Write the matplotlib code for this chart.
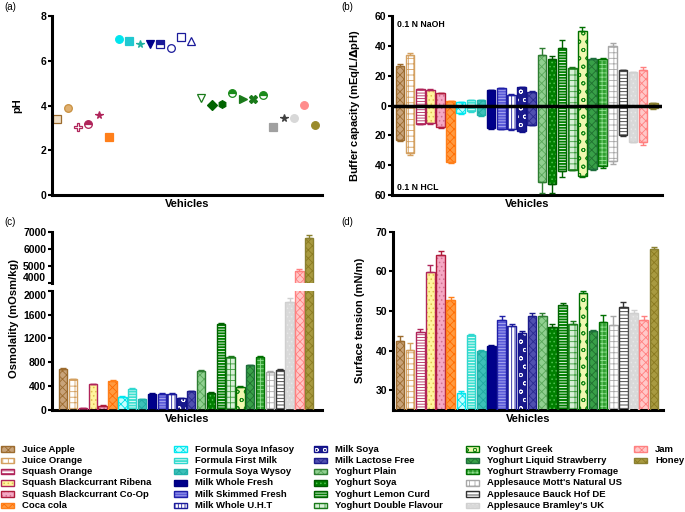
import numpy as np
import matplotlib.pyplot as plt
from matplotlib.patches import Rectangle

plt.rcParams['font.family'] = ['Liberation Sans', 'DejaVu Sans']
plt.rcParams['font.weight'] = 'bold'
plt.rcParams['axes.labelweight'] = 'bold'
plt.rcParams['hatch.linewidth'] = 0.6

vehicles = ['Juice Apple', 'Juice Orange', 'Squash Orange', 'Squash Blackcurrant Ribena',
            'Squash Blackcurrant Co-Op', 'Coca cola', 'Formula Soya Infasoy', 'Formula First Milk',
            'Formula Soya Wysoy', 'Milk Whole Fresh', 'Milk Skimmed Fresh', 'Milk Whole U.H.T',
            'Milk Soya', 'Milk Lactose Free', 'Yoghurt Plain', 'Yoghurt Soya', 'Yoghurt Lemon Curd',
            'Yoghurt Double Flavour', 'Yoghurt Greek', 'Yoghurt Liquid Strawberry',
            'Yoghurt Strawberry Fromage', "Applesauce Mott's Natural US", 'Applesauce Bauck Hof DE',
            "Applesauce Bramley's UK", 'Jam', 'Honey']

# (a) pH
ph = [3.40, 3.88, 3.02, 3.18, 3.56, 2.60, 6.98, 6.88, 6.73, 6.75, 6.75, 6.58, 7.08, 6.87,
      4.32, 4.03, 4.07, 4.57, 4.29, 4.27, 4.45, 3.03, 3.45, 3.45, 4.03, 3.13]

# (b) buffer capacity, NaOH (up) and HCL (down)
buffer_naoh = [26.3, 34.0, 10.8, 10.4, 8.1, 2.9, 2.3, 3.6, 3.6, 10.4, 11.5, 7.0, 12.4, 9.2,
               34.0, 31.3, 38.3, 25.0, 49.8, 31.3, 31.3, 39.6, 23.6, 22.3, 23.6, 1.6]
buffer_naoh_err = [1.2, 1.0, 0.5, 0.5, 0.6, 0.4, 0.3, 0.3, 0.3, 0.3, 0.3, 0.5, 0.3, 0.4,
                   4.4, 2.0, 5.6, 0.5, 3.0, 0.5, 0.6, 2.0, 0.5, 0.3, 2.0, 0.3]
buffer_hcl = [22.8, 31.8, 12.2, 11.9, 14.1, 37.8, 5.2, 3.8, 6.5, 15.1, 15.5, 15.5, 17.1, 12.8,
              51.4, 52.7, 43.7, 43.0, 47.3, 42.4, 40.8, 37.2, 19.8, 24.3, 24.5, 1.8]
buffer_hcl_err = [0.8, 1.1, 0.5, 0.8, 0.9, 0.6, 0.3, 0.3, 0.5, 0.4, 0.4, 0.6, 0.4, 0.4,
                  7.5, 6.2, 4.0, 0.5, 0.8, 0.8, 0.8, 2.0, 0.5, 0.3, 2.2, 0.3]

# (c) osmolality
osmolality = [687, 518, 28, 428, 73, 485, 220, 360, 186, 276, 276, 276, 197, 321,
              654, 290, 1436, 883, 391, 749, 894, 642, 676, 1810, 4670, 6610]
osmolality_err = [15, 10, 3, 10, 5, 10, 10, 10, 5, 5, 5, 5, 5, 5,
                  10, 10, 20, 15, 10, 10, 15, 10, 15, 60, 140, 200]

# (d) surface tension
surface_tension = [42.4, 40.1, 44.6, 59.8, 64.0, 52.7, 29.3, 44.0, 39.8, 41.1, 47.7, 46.3, 44.4, 48.6,
                   48.7, 46.0, 51.5, 46.8, 54.5, 45.0, 47.2, 46.5, 50.9, 49.4, 47.8, 65.6]
surface_tension_err = [1.4, 1.7, 0.8, 1.9, 1.2, 0.7, 0.6, 0.3, 0.4, 0.2, 1.1, 0.5, 0.6, 1.0,
                       0.8, 0.7, 0.5, 0.7, 0.5, 0.1, 1.7, 2.3, 1.4, 0.9, 0.9, 0.5]

edge_colors = ['#9c6b2e', '#d4a060', '#b0245a', '#b0245a', '#b01c3c', '#ff7f1a', '#00e8f0', '#30d8d0',
               '#20b2aa', '#00007f', '#2020a8', '#1c1c9c', '#10108a', '#1c1c8c', '#2e7d32', '#005a00',
               '#006400', '#1a7a1a', '#007000', '#1e6e3c', '#007000', '#a8a8a8', '#333333', '#d0d0d0',
               '#ff8080', '#8a8030']
fill_colors = ['#c8a37a', '#ffffff', '#ffffff', '#fff59d', '#f5a8c4', '#ff9a40', '#c8ffff', '#40e0d0',
               '#3cc0b8', '#00008b', '#5a5ad8', '#ffffff', '#1a1a8c', '#5050b0', '#90d090', '#008000',
               '#008000', '#d8f0d8', '#f0f8b0', '#38a048', '#30a030', '#ffffff', '#ffffff', '#d9d9d9',
               '#ffc8c8', '#a89a40']
hatch_colors = ['#9c6b2e', '#d4a060', '#b0245a', '#e0c050', '#d07090', '#ff6a00', '#00e0e8', '#ffffff',
                '#20a8a0', '#00008b', '#b0b0f0', '#1c1c9c', '#ffffff', '#2a2a90', '#5aa85a', '#50c050',
                '#ffffff', '#3a9a3a', '#1a8a1a', '#207030', '#90e090', '#a8a8a8', '#333333', '#e8e8e8',
                '#ff8080', '#8a7a20']
hatches = ['xxxx', '+++', '------', '....', '....', 'xxxx', 'xxxx', '------', 'xxxx', '', '------', '|||||',
           'oo', 'xxxx', 'xxxx', '....', '------', '+++', 'oo', 'xxxx', '++++', '+++', '-----', '....',
           'xxxx', 'xxxx']

markers = ['s', 'o', 'P', 'o', '*', 's', 'o', 's', '*', 'v', 's', 'o', 's', '^',
           'v', 'D', 'h', 'o', '>', 'X', 'o', 's', '*', 'o', 'o', 'o']
marker_faces = ['#f0e0c8', '#e0b070', '#ffffff', '#b0245a', '#b0245a', '#ff7f1a', '#00e5ee', '#20c8d0',
                '#20b0a0', '#00008b', '#1a1a9a', '#ffffff', '#ffffff', '#ffffff', '#ffffff', '#006400',
                '#006400', '#1a8a1a', '#1a7a1a', '#1a7a1a', '#1a8a1a', '#a0a0a0', '#404040', '#d8d8d8',
                '#ff8c8c', '#9a8a2a']
marker_edges = ['#9c6b2e', '#c89040', '#b0245a', '#b0245a', '#b0245a', '#ff7f1a', '#00e5ee', '#20c8d0',
                '#20b0a0', '#00008b', '#1a1a9a', '#1a1a9a', '#1a1a9a', '#1a1a9a', '#1a7a1a', '#006400',
                '#006400', '#1a8a1a', '#1a7a1a', '#1a7a1a', '#1a8a1a', '#a0a0a0', '#404040', '#d8d8d8',
                '#ff8c8c', '#9a8a2a']

n = len(vehicles)
x = np.arange(n)
W, H = 685, 512


def fig_rect(left, top, right, bottom):
    return [left / W, 1 - bottom / H, (right - left) / W, (bottom - top) / H]


def style_axis(ax):
    for s in ['top', 'right']:
        ax.spines[s].set_visible(False)
    for s in ['left', 'bottom']:
        ax.spines[s].set_linewidth(2.2)
    ax.set_xticks([])
    ax.tick_params(axis='y', length=3, width=1.5, labelsize=7.5, pad=1)
    for lab in ax.get_yticklabels():
        lab.set_fontweight('bold')


def draw_bars(ax, heights, bottoms, width=0.82):
    for i in range(n):
        ax.bar(x[i], heights[i], bottom=bottoms[i], width=width, color=fill_colors[i],
               hatch=hatches[i], edgecolor=hatch_colors[i], linewidth=0, zorder=2)
        ax.bar(x[i], heights[i], bottom=bottoms[i], width=width, fill=False,
               edgecolor=edge_colors[i], linewidth=1.0, zorder=3)


def draw_err(ax, i, y, err, down=False):
    yerr = [[err], [0]] if down else [[0], [err]]
    ax.errorbar(x[i], y, yerr=yerr, fmt='none', ecolor=edge_colors[i],
                elinewidth=1.0, capsize=2, capthick=1.0, zorder=4)


fig = plt.figure(figsize=(6.85, 5.12), dpi=100)

# (a) pH
ax_a = fig.add_axes(fig_rect(51.7, 16, 321.7, 195))
for i in range(n):
    fs = 'top' if i in (3, 10, 17, 20) else 'full'
    ax_a.plot(x[i], ph[i], marker=markers[i], markersize=5.5, color=marker_edges[i],
              markerfacecolor=marker_faces[i], markeredgecolor=marker_edges[i],
              markerfacecoloralt='white', fillstyle=fs, markeredgewidth=0.9, linestyle='none')
ax_a.set_xlim(-0.55, 25.7)
ax_a.set_ylim(0, 8)
ax_a.set_yticks([0, 2, 4, 6, 8])
ax_a.set_ylabel('pH', fontsize=8, labelpad=13)
ax_a.set_xlabel('Vehicles', fontsize=8, labelpad=3)
style_axis(ax_a)

# (b) buffer capacity
ax_b = fig.add_axes(fig_rect(391.7, 16, 661.7, 195))
naoh = np.array(buffer_naoh)
hcl = np.array(buffer_hcl)
draw_bars(ax_b, naoh + hcl, -hcl, width=0.85)
for i in range(n):
    draw_err(ax_b, i, naoh[i], buffer_naoh_err[i])
    draw_err(ax_b, i, -hcl[i], buffer_hcl_err[i], down=True)
ax_b.axhline(0, color='black', linewidth=2.5, zorder=5)
ax_b.set_xlim(-0.82, 25.83)
ax_b.set_ylim(-60, 60)
ax_b.set_yticks([-60, -40, -20, 0, 20, 40, 60])
ax_b.set_yticklabels(['60', '40', '20', '0', '20', '40', '60'])
ax_b.set_ylabel('Buffer capacity (mEq/L/$\\Delta$pH)', fontsize=8, labelpad=9)
ax_b.set_xlabel('Vehicles', fontsize=8, labelpad=3)
ax_b.text(0.02, 0.975, '0.1 N NaOH', transform=ax_b.transAxes, fontsize=6.3,
          fontweight='bold', va='top', ha='left')
ax_b.text(0.02, 0.015, '0.1 N HCL', transform=ax_b.transAxes, fontsize=6.3,
          fontweight='bold', va='bottom', ha='left')
style_axis(ax_b)

# (c) osmolality, broken axis
ax_ct = fig.add_axes(fig_rect(51.7, 231.7, 321.7, 282.7))
ax_cb = fig.add_axes(fig_rect(51.7, 290.7, 321.7, 410))
zeros = np.zeros(n)
for ax in (ax_ct, ax_cb):
    draw_bars(ax, osmolality, zeros, width=0.85)
    for i in range(n):
        draw_err(ax, i, osmolality[i], osmolality_err[i])
    ax.set_xlim(-1.18, 26.26)
    style_axis(ax)
ax_ct.set_ylim(4000, 7000)
ax_ct.set_yticks([4000, 5000, 6000, 7000])
ax_ct.spines['bottom'].set_visible(False)
ax_cb.set_ylim(0, 2000)
ax_cb.set_yticks([0, 400, 800, 1200, 1600, 2000])
ax_cb.set_xlabel('Vehicles', fontsize=8, labelpad=3)
# keep the two labels at the break from running into each other
ax_ct.get_yticklabels()[0].set_verticalalignment('bottom')
ax_cb.get_yticklabels()[-1].set_verticalalignment('top')
fig.text(14 / W, 1 - 319 / H, 'Osmolality (mOsm/kg)', rotation=90, fontsize=8,
         fontweight='bold', ha='center', va='center')

# (d) surface tension
ax_d = fig.add_axes(fig_rect(393, 231.7, 663, 410))
draw_bars(ax_d, surface_tension, zeros, width=0.85)
for i in range(n):
    draw_err(ax_d, i, surface_tension[i], surface_tension_err[i])
ax_d.set_xlim(-0.69, 25.89)
ax_d.set_ylim(25, 70)
ax_d.set_yticks([30, 40, 50, 60, 70])
ax_d.set_ylabel('Surface tension (mN/m)', fontsize=8, labelpad=8)
ax_d.set_xlabel('Vehicles', fontsize=8, labelpad=3)
style_axis(ax_d)

# panel letters
for lab, px, py in [('(a)', 4, 7), ('(b)', 341, 7), ('(c)', 4, 222), ('(d)', 341, 222)]:
    fig.text(px / W, 1 - py / H, lab, fontsize=7, fontweight='normal', va='center', ha='left')

# legend, 6 rows per column
col_x = [1, 174, 314, 466, 634]
for i, name in enumerate(vehicles):
    c, r = divmod(i, 6)
    py = 449 + 11.3 * r
    px = col_x[c]
    fig.add_artist(Rectangle((px / W, 1 - (py + 2.8) / H), 13 / W, 5.6 / H,
                             transform=fig.transFigure, facecolor=fill_colors[i],
                             hatch=hatches[i], edgecolor=hatch_colors[i], linewidth=0))
    fig.add_artist(Rectangle((px / W, 1 - (py + 2.8) / H), 13 / W, 5.6 / H,
                             transform=fig.transFigure, fill=False,
                             edgecolor=edge_colors[i], linewidth=1.0))
    fig.text((px + 21) / W, 1 - py / H, name, fontsize=6.8, fontweight='bold',
             va='center', ha='left')

fig.savefig('out.png', dpi=100)
